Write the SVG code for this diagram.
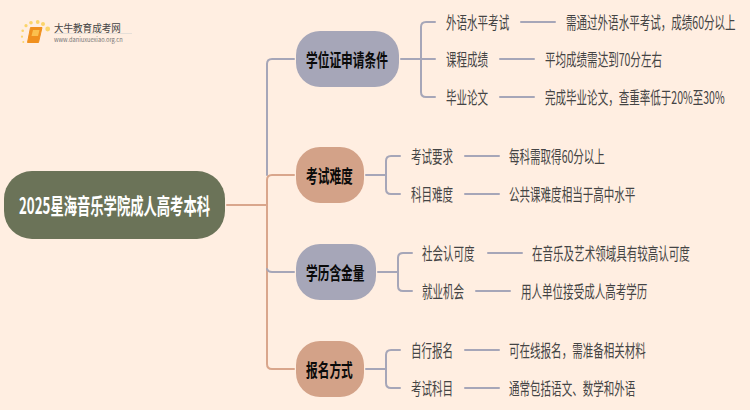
<svg xmlns="http://www.w3.org/2000/svg" width="750" height="410" viewBox="0 0 750 410">
<style>
text{font-family:"Noto Sans CJK SC","Liberation Sans",sans-serif;dominant-baseline:central}
.l{font-size:17px;fill:#444}
.b{font-size:18px;font-weight:700;fill:#0a0a0a}
.c{fill:none;stroke-width:2;stroke-linecap:round}
.g{stroke:#a6a6b8}
.o{stroke:#d9a68c}
.d{fill:#fbd46a}
</style>
<rect width="750" height="410" fill="#ffeee1"/>
<g id="logo">
<circle class="d" cx="47.700" cy="29" r="2.400"/><circle class="d" cx="43" cy="24" r="2"/><circle class="d" cx="37.700" cy="22" r="1.900"/><circle class="d" cx="31" cy="22.700" r="1.800"/><circle class="d" cx="26" cy="25.700" r="1.600"/><circle class="d" cx="22.700" cy="30.700" r="1.300"/><circle class="d" cx="22" cy="36.700" r="1.100"/><circle class="d" cx="23.300" cy="42" r="1"/>
<path d="M30.500 27.500H42L38.500 42.500H27.500Z" fill="#f0901e" stroke="#f0901e" stroke-linejoin="round"/><path d="M33 30H39.500L38 36H31.500Z" fill="#fbc04e"/>
<text font-size="10.500" fill="#444" transform="translate(54 27) scale(.91 1)">大牛教育成考网</text>
<rect x="54" y="33" width="78" height="1" fill="#e6dfd8"/>
<text x="54" y="39" font-size="5.700" fill="#777" font-family="Liberation Sans">www.daniuxuexiao.org.cn</text>
</g>
<g id="connectors">
<path class="c g" d="M294 59H272Q267 59 267 64V175"/>
<path class="c o" d="M227 205H267M294 175H272Q267 175 267 180V364Q267 369 272 369H294"/>
<path class="c g" d="M294 272H272Q268 272 267 269"/>
<path class="c g" d="M401 59H435M435 22H426Q421 22 421 27V92Q421 97 426 97H435"/>
<path class="c g" d="M521 22H555M500 59H534M500 97H534"/>
<path class="c g" d="M366 175H386M400 156H391Q386 156 386 161V189Q386 194 391 194H400"/>
<path class="c g" d="M465 156H499M465 194H499"/>
<path class="c g" d="M378 272H398M412 253H403Q398 253 398 258V286Q398 291 403 291H412"/>
<path class="c g" d="M488 253H522M476 291H510"/>
<path class="c g" d="M366 369H386M400 350H391Q386 350 386 355V383Q386 388 391 388H400"/>
<path class="c g" d="M465 350H499M465 388H499"/>
</g>
<g id="root"><rect x="4" y="171" width="221" height="68" rx="28" fill="#6b7358"/><text font-size="22" font-weight="700" fill="#fff" transform="translate(19 204) scale(.605 1)">2025星海音乐学院成人高考本科</text></g>
<g id="n1"><rect x="296" y="31" width="103" height="56" rx="24" fill="#a6a6b8"/><text class="b" transform="translate(306 59) scale(.65 1)">学位证申请条件</text></g>
<g id="n2"><rect x="296" y="147" width="68" height="56" rx="24" fill="#d3a288"/><text class="b" transform="translate(306 175) scale(.65 1)">考试难度</text></g>
<g id="n3"><rect x="296" y="244" width="80" height="56" rx="24" fill="#a6a6b8"/><text class="b" transform="translate(306 272) scale(.65 1)">学历含金量</text></g>
<g id="n4"><rect x="296" y="341" width="68" height="56" rx="24" fill="#d3a288"/><text class="b" transform="translate(306 369) scale(.65 1)">报名方式</text></g>
<g id="leaves">
<text class="l" transform="translate(446 22) scale(.62 1)">外语水平考试</text>
<text class="l" transform="translate(566 22) scale(.62 1)">需通过外语水平考试，成绩60分以上</text>
<text class="l" transform="translate(446 59) scale(.62 1)">课程成绩</text>
<text class="l" transform="translate(545 59) scale(.62 1)">平均成绩需达到70分左右</text>
<text class="l" transform="translate(446 97) scale(.62 1)">毕业论文</text>
<text class="l" transform="translate(545 97) scale(.62 1)">完成毕业论文，查重率低于20%至30%</text>
<text class="l" transform="translate(411 156) scale(.62 1)">考试要求</text>
<text class="l" transform="translate(509 156) scale(.62 1)">每科需取得60分以上</text>
<text class="l" transform="translate(411 194) scale(.62 1)">科目难度</text>
<text class="l" transform="translate(509 194) scale(.62 1)">公共课难度相当于高中水平</text>
<text class="l" transform="translate(422 253) scale(.62 1)">社会认可度</text>
<text class="l" transform="translate(532 253) scale(.62 1)">在音乐及艺术领域具有较高认可度</text>
<text class="l" transform="translate(422 291) scale(.62 1)">就业机会</text>
<text class="l" transform="translate(521 291) scale(.62 1)">用人单位接受成人高考学历</text>
<text class="l" transform="translate(411 350) scale(.62 1)">自行报名</text>
<text class="l" transform="translate(509 350) scale(.62 1)">可在线报名，需准备相关材料</text>
<text class="l" transform="translate(411 388) scale(.62 1)">考试科目</text>
<text class="l" transform="translate(509 388) scale(.62 1)">通常包括语文、数学和外语</text>
</g>
</svg>
